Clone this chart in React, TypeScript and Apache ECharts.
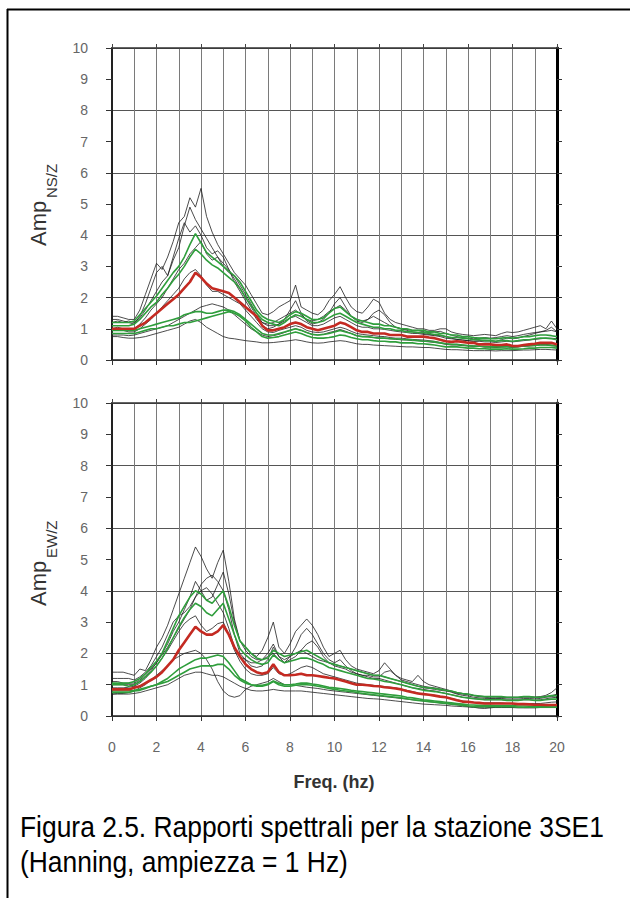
import React, { useEffect, useRef } from "react";
import * as echarts from "echarts";

// Frequency samples (Hz)
const FREQ = [
  0, 0.25, 0.5, 0.75, 1, 1.25, 1.5, 1.75, 2, 2.25, 2.5, 2.75, 3, 3.25, 3.5, 3.75,
  4, 4.25, 4.5, 4.75, 5, 5.25, 5.5, 5.75, 6, 6.25, 6.5, 6.75, 7, 7.25, 7.5, 7.75,
  8, 8.25, 8.5, 8.75, 9, 9.25, 9.5, 9.75, 10, 10.25, 10.5, 10.75, 11, 11.25, 11.5, 11.75,
  12, 12.25, 12.5, 12.75, 13, 13.25, 13.5, 13.75, 14, 14.25, 14.5, 14.75, 15, 15.25, 15.5, 15.75,
  16, 16.25, 16.5, 16.75, 17, 17.25, 17.5, 17.75, 18, 18.25, 18.5, 18.75, 19, 19.25, 19.5, 19.75, 20,
];

const X_TICKS = [0, 2, 4, 6, 8, 10, 12, 14, 16, 18, 20];
const Y_TICKS = [0, 1, 2, 3, 4, 5, 6, 7, 8, 9, 10];

// ---------- NS/Z ----------
const NS_MEAN = [
  1.0, 1.0, 1.0, 1.0, 1.0, 1.1, 1.2, 1.35, 1.5, 1.65, 1.8, 1.95, 2.1, 2.3, 2.5, 2.8,
  2.65, 2.45, 2.3, 2.25, 2.2, 2.15, 2.0, 1.85, 1.7, 1.55, 1.4, 1.1, 0.95, 0.95, 1.0, 1.05,
  1.15, 1.2, 1.15, 1.05, 1.0, 0.95, 1.0, 1.05, 1.1, 1.2, 1.15, 1.05, 0.95, 0.9, 0.9, 0.85,
  0.85, 0.85, 0.8, 0.8, 0.8, 0.75, 0.75, 0.75, 0.75, 0.72, 0.7, 0.65, 0.6, 0.58, 0.6, 0.58,
  0.55, 0.55, 0.5, 0.5, 0.5, 0.48, 0.48, 0.5, 0.45, 0.45, 0.48, 0.5, 0.52, 0.55, 0.55, 0.55, 0.5,
];
const NS_GREEN_1 = [
  1.2, 1.2, 1.2, 1.2, 1.25, 1.45, 1.65, 1.85, 2.05, 2.3, 2.55, 2.8, 3.0, 3.3, 3.7, 4.05,
  3.75, 3.45, 3.3, 3.15, 3.0, 2.85, 2.7, 2.5, 2.2, 1.9, 1.6, 1.4, 1.3, 1.25, 1.2, 1.3,
  1.45, 1.55, 1.5, 1.4, 1.3, 1.3, 1.35, 1.5, 1.65, 1.7, 1.55, 1.4, 1.3, 1.25, 1.2, 1.15,
  1.15, 1.1, 1.1, 1.05, 1.0, 1.0, 0.95, 0.95, 0.95, 0.9, 0.9, 0.85, 0.85, 0.8, 0.8, 0.75,
  0.75, 0.72, 0.7, 0.7, 0.68, 0.68, 0.7, 0.72, 0.7, 0.72, 0.75, 0.75, 0.78, 0.8, 0.8, 0.78, 0.75,
];
const NS_GREEN_2 = [
  1.1, 1.1, 1.1, 1.1, 1.15, 1.3, 1.5, 1.7, 1.85, 2.1, 2.3, 2.55, 2.75, 3.0, 3.3, 3.55,
  3.4, 3.2, 3.05, 2.95, 2.8, 2.65, 2.5, 2.3, 2.0, 1.75, 1.5, 1.3, 1.2, 1.15, 1.1, 1.2,
  1.35, 1.45, 1.4, 1.3, 1.2, 1.2, 1.25, 1.35, 1.45, 1.5, 1.4, 1.3, 1.2, 1.15, 1.1, 1.05,
  1.05, 1.0, 1.0, 0.95, 0.95, 0.9, 0.9, 0.88, 0.88, 0.85, 0.82, 0.8, 0.75, 0.72, 0.72, 0.7,
  0.68, 0.65, 0.65, 0.62, 0.62, 0.6, 0.62, 0.62, 0.6, 0.62, 0.65, 0.65, 0.68, 0.7, 0.7, 0.68, 0.65,
];
const NS_GREEN_3 = [
  0.85, 0.85, 0.85, 0.85, 0.85, 0.9, 0.95, 1.0, 1.0, 1.05, 1.1, 1.1, 1.15, 1.2, 1.2, 1.25,
  1.3, 1.35, 1.4, 1.45, 1.5, 1.55, 1.5, 1.4, 1.25, 1.05, 0.9, 0.75, 0.7, 0.72, 0.75, 0.8,
  0.85, 0.9, 0.85, 0.78, 0.72, 0.7, 0.7, 0.72, 0.75, 0.8, 0.78, 0.72, 0.68, 0.65, 0.65, 0.62,
  0.6, 0.6, 0.58, 0.58, 0.55, 0.55, 0.55, 0.52, 0.52, 0.5, 0.48, 0.45, 0.42, 0.42, 0.42, 0.4,
  0.38, 0.38, 0.36, 0.36, 0.35, 0.35, 0.35, 0.36, 0.35, 0.35, 0.36, 0.38, 0.38, 0.4, 0.4, 0.4, 0.38,
];
const NS_GREEN_4 = [
  0.95, 0.95, 0.95, 0.95, 0.95, 1.0, 1.05, 1.1, 1.15, 1.2, 1.25, 1.3, 1.35, 1.45, 1.5, 1.55,
  1.55, 1.5, 1.5, 1.55, 1.6, 1.6, 1.55, 1.45, 1.3, 1.15, 1.0, 0.85, 0.8, 0.8, 0.85, 0.9,
  0.95, 1.0, 0.95, 0.88, 0.82, 0.8, 0.82, 0.85, 0.9, 0.95, 0.9, 0.85, 0.78, 0.75, 0.75, 0.72,
  0.7, 0.7, 0.68, 0.68, 0.66, 0.65, 0.64, 0.62, 0.6, 0.6, 0.58, 0.55, 0.52, 0.5, 0.5, 0.48,
  0.46, 0.45, 0.44, 0.43, 0.42, 0.42, 0.42, 0.43, 0.42, 0.43, 0.45, 0.46, 0.47, 0.48, 0.48, 0.47, 0.45,
];
const NS_BLACK_1 = [
  1.4, 1.4, 1.35, 1.3, 1.3, 1.6, 2.1, 2.6, 3.1, 2.9, 3.3, 3.8, 4.4, 4.6, 5.2, 4.9,
  5.5, 4.6, 4.1, 3.7, 3.4, 3.1, 2.8, 2.6, 2.4, 2.1, 1.8, 1.5, 1.45, 1.55, 1.7, 1.8,
  1.9, 2.4, 1.7, 1.6, 1.5, 1.45, 1.6, 1.9, 2.1, 2.35, 2.0, 1.7, 1.55, 1.5, 1.7, 1.95,
  1.85, 1.5, 1.3, 1.2, 1.15, 1.1, 1.05, 1.0, 1.0, 0.95, 0.95, 1.0, 1.0, 0.9, 0.85, 0.82,
  0.8, 0.78, 0.8, 0.82, 0.8, 0.78, 0.85, 0.9, 0.88, 0.9, 0.95, 1.0, 1.05, 1.1, 1.0, 1.25, 1.0,
];
const NS_BLACK_2 = [
  1.2, 1.25, 1.2, 1.25, 1.2, 1.35, 1.6, 1.9, 2.2, 2.5, 2.7, 3.2, 3.6, 4.3, 4.9, 4.5,
  4.2, 3.9, 3.6, 3.3, 3.1, 2.9, 2.6, 2.3, 2.0, 1.7, 1.4, 1.2, 1.15, 1.2, 1.3, 1.4,
  1.5, 1.6, 1.45, 1.3, 1.25, 1.3, 1.4, 1.55, 1.65, 1.75, 1.6, 1.4, 1.3, 1.25, 1.3, 1.4,
  1.3, 1.2, 1.1, 1.05, 1.0, 0.98, 0.95, 0.95, 0.9, 0.88, 0.9, 0.92, 0.85, 0.8, 0.75, 0.72,
  0.7, 0.68, 0.7, 0.72, 0.7, 0.72, 0.75, 0.78, 0.75, 0.78, 0.82, 0.85, 0.88, 0.9, 0.92, 0.95, 0.9,
];
const NS_BLACK_3 = [
  1.0, 1.05, 1.0, 1.0, 1.0, 1.15, 1.35, 1.6, 1.8, 2.0, 2.3, 2.6, 2.9, 3.1, 3.4, 3.6,
  3.8, 3.4, 3.2, 3.3, 3.0, 2.8, 2.7, 2.4, 2.1, 1.8, 1.5, 1.2, 1.1, 1.1, 1.15, 1.25,
  1.35, 1.4, 1.3, 1.2, 1.1, 1.1, 1.15, 1.25, 1.35, 1.4, 1.3, 1.2, 1.1, 1.05, 1.05, 1.0,
  1.0, 0.98, 0.95, 0.92, 0.9, 0.88, 0.85, 0.85, 0.82, 0.8, 0.78, 0.75, 0.7, 0.68, 0.66, 0.64,
  0.62, 0.6, 0.6, 0.58, 0.58, 0.56, 0.58, 0.6, 0.58, 0.6, 0.62, 0.64, 0.66, 0.68, 0.7, 0.7, 0.68,
];
const NS_BLACK_4 = [
  0.95, 0.95, 0.95, 0.9, 0.9, 1.0, 1.15, 1.3, 1.5, 1.7, 1.9, 2.1, 2.3, 2.6, 2.8, 2.9,
  2.7, 2.4, 2.2, 2.2, 2.1, 2.0, 1.9, 1.8, 1.6, 1.4, 1.2, 1.0, 0.9, 0.88, 0.95, 1.0,
  1.05, 1.1, 1.05, 0.95, 0.9, 0.88, 0.9, 0.95, 1.0, 1.05, 1.0, 0.92, 0.85, 0.82, 0.8, 0.78,
  0.76, 0.75, 0.72, 0.7, 0.7, 0.68, 0.66, 0.65, 0.64, 0.62, 0.6, 0.56, 0.52, 0.5, 0.5, 0.48,
  0.46, 0.45, 0.44, 0.42, 0.42, 0.4, 0.42, 0.42, 0.4, 0.42, 0.44, 0.45, 0.46, 0.48, 0.48, 0.46, 0.44,
];
const NS_BLACK_5 = [
  0.75, 0.75, 0.72, 0.7, 0.7, 0.72, 0.75, 0.8, 0.85, 0.9, 0.95, 1.0, 1.05, 1.15, 1.25, 1.3,
  1.2, 1.05, 0.95, 0.85, 0.75, 0.7, 0.68, 0.65, 0.62, 0.6, 0.58, 0.55, 0.55, 0.56, 0.58, 0.6,
  0.62, 0.65, 0.62, 0.58, 0.55, 0.54, 0.55, 0.58, 0.6, 0.62, 0.6, 0.56, 0.52, 0.5, 0.5, 0.48,
  0.47, 0.46, 0.45, 0.44, 0.43, 0.42, 0.42, 0.41, 0.4, 0.4, 0.38, 0.36, 0.34, 0.33, 0.33, 0.32,
  0.31, 0.3, 0.3, 0.3, 0.3, 0.29, 0.3, 0.3, 0.3, 0.31, 0.32, 0.32, 0.33, 0.34, 0.34, 0.33, 0.32,
];
const NS_BLACK_6 = [
  0.8, 0.8, 0.8, 0.78, 0.8, 0.85, 0.9, 0.95, 1.0, 1.05, 1.1, 1.2, 1.3, 1.4, 1.5, 1.6,
  1.7, 1.75, 1.8, 1.75, 1.7, 1.6, 1.45, 1.3, 1.15, 1.0, 0.9, 0.8, 0.75, 0.78, 0.82, 0.88,
  0.95, 1.0, 0.95, 0.88, 0.82, 0.8, 0.82, 0.88, 0.92, 0.98, 0.92, 0.85, 0.78, 0.75, 0.74, 0.72,
  0.7, 0.7, 0.68, 0.66, 0.65, 0.64, 0.62, 0.62, 0.6, 0.58, 0.56, 0.54, 0.5, 0.48, 0.48, 0.46,
  0.45, 0.44, 0.44, 0.42, 0.42, 0.41, 0.42, 0.43, 0.42, 0.43, 0.45, 0.46, 0.48, 0.5, 0.5, 0.48, 0.46,
];
const NS_BLACK_7 = [
  1.3, 1.3, 1.25, 1.2, 1.15, 1.4, 1.8, 2.3, 2.8, 3.0, 2.7, 3.3, 3.9, 4.4, 4.1, 4.3,
  4.0, 3.6, 3.4, 3.5, 3.3, 2.9, 2.5, 2.2, 1.9, 1.6, 1.3, 1.1, 1.0, 1.05, 1.15, 1.3,
  1.6, 1.9, 1.5, 1.25, 1.15, 1.2, 1.3, 1.5, 1.8, 2.0, 1.7, 1.4, 1.25, 1.2, 1.3, 1.5,
  1.6, 1.45, 1.2, 1.05, 1.0, 0.95, 0.9, 0.88, 0.85, 0.82, 0.8, 0.78, 0.75, 0.7, 0.66, 0.64,
  0.62, 0.6, 0.62, 0.64, 0.62, 0.6, 0.65, 0.7, 0.68, 0.7, 0.75, 0.8, 0.85, 0.9, 0.95, 1.05, 0.9,
];

// ---------- EW/Z ----------
const EW_MEAN = [
  0.85, 0.85, 0.85, 0.85, 0.9, 0.95, 1.05, 1.15, 1.25, 1.4, 1.6, 1.8, 2.1, 2.35, 2.6, 2.85,
  2.7, 2.6, 2.6, 2.7, 2.9, 2.6, 2.2, 1.9, 1.65, 1.5, 1.4, 1.35, 1.4, 1.65, 1.4, 1.3,
  1.3, 1.32, 1.35, 1.3, 1.3, 1.28, 1.25, 1.22, 1.2, 1.15, 1.1, 1.05, 1.0, 1.0, 0.98, 0.96,
  0.95, 0.92, 0.9, 0.88, 0.85, 0.8, 0.76, 0.72, 0.7, 0.68, 0.65, 0.62, 0.6, 0.55, 0.5, 0.46,
  0.45, 0.43, 0.42, 0.4, 0.4, 0.4, 0.4, 0.4, 0.4, 0.38, 0.38, 0.37, 0.36, 0.36, 0.35, 0.35, 0.35,
];
const EW_GREEN_1 = [
  1.05, 1.05, 1.05, 1.05, 1.1, 1.2, 1.35, 1.55, 1.75, 2.0, 2.4, 2.8, 3.2, 3.5, 3.8, 4.0,
  3.9, 3.7, 3.6, 3.8, 4.0, 3.5, 2.9, 2.4, 2.2, 2.0, 1.85, 1.8, 1.85, 2.1, 2.0, 1.9,
  1.95, 2.0, 2.05, 2.1, 2.0, 1.9, 1.8, 1.7, 1.65, 1.6, 1.55, 1.5, 1.45, 1.4, 1.35, 1.3,
  1.3, 1.25, 1.2, 1.15, 1.1, 1.05, 1.0, 0.95, 0.92, 0.9, 0.88, 0.85, 0.82, 0.8, 0.75, 0.72,
  0.7, 0.66, 0.64, 0.62, 0.62, 0.62, 0.62, 0.6, 0.6, 0.6, 0.62, 0.62, 0.6, 0.6, 0.62, 0.65, 0.65,
];
const EW_GREEN_2 = [
  1.0, 1.0, 1.0, 0.95, 1.0, 1.1, 1.25, 1.4, 1.6, 1.85, 2.15, 2.5, 2.85, 3.15, 3.4, 3.6,
  3.5, 3.3, 3.2, 3.4, 3.6, 3.1, 2.6, 2.15, 1.95, 1.8, 1.7, 1.65, 1.7, 1.95, 1.8, 1.7,
  1.75, 1.8, 1.85, 1.85, 1.8, 1.72, 1.65, 1.55, 1.5, 1.45, 1.4, 1.35, 1.3, 1.25, 1.2, 1.18,
  1.15, 1.1, 1.08, 1.04, 1.0, 0.95, 0.9, 0.86, 0.82, 0.8, 0.78, 0.75, 0.72, 0.68, 0.64, 0.6,
  0.58, 0.55, 0.54, 0.52, 0.52, 0.52, 0.52, 0.5, 0.5, 0.5, 0.52, 0.52, 0.5, 0.5, 0.52, 0.54, 0.54,
];
const EW_GREEN_3 = [
  0.75, 0.75, 0.75, 0.75, 0.8, 0.82, 0.88, 0.95, 1.0, 1.1, 1.2, 1.35, 1.5, 1.6, 1.7, 1.8,
  1.85, 1.85, 1.9, 1.95, 1.9, 1.7, 1.45, 1.2, 1.1, 1.0, 0.95, 0.95, 1.0, 1.1, 1.0, 0.95,
  0.95, 0.98, 1.0, 1.0, 0.98, 0.95, 0.92, 0.88, 0.85, 0.82, 0.8, 0.78, 0.75, 0.72, 0.7, 0.68,
  0.66, 0.64, 0.62, 0.6, 0.58, 0.55, 0.52, 0.5, 0.48, 0.46, 0.44, 0.42, 0.4, 0.38, 0.36, 0.34,
  0.32, 0.3, 0.3, 0.3, 0.3, 0.3, 0.3, 0.3, 0.3, 0.28, 0.28, 0.28, 0.28, 0.28, 0.28, 0.28, 0.28,
];
const EW_GREEN_4 = [
  0.8, 0.8, 0.8, 0.8, 0.82, 0.85, 0.9, 0.95, 1.0, 1.05, 1.1, 1.2, 1.3, 1.4, 1.5, 1.55,
  1.6, 1.6, 1.6, 1.65, 1.65, 1.5, 1.3, 1.15, 1.05, 1.0, 0.98, 0.98, 1.02, 1.12, 1.05, 1.0,
  1.0, 1.02, 1.05, 1.05, 1.02, 1.0, 0.96, 0.92, 0.9, 0.88, 0.85, 0.82, 0.8, 0.78, 0.76, 0.74,
  0.72, 0.7, 0.68, 0.66, 0.64, 0.6, 0.58, 0.55, 0.52, 0.5, 0.48, 0.46, 0.44, 0.42, 0.4, 0.38,
  0.36, 0.35, 0.34, 0.34, 0.34, 0.33, 0.33, 0.33, 0.33, 0.32, 0.32, 0.31, 0.31, 0.31, 0.31, 0.32, 0.32,
];
const EW_BLACK_1 = [
  1.4, 1.4, 1.4, 1.35, 1.3, 1.5, 1.45, 1.8, 2.2, 2.5, 2.9, 3.4, 3.9, 4.4, 4.9, 5.4,
  5.1, 4.7, 4.4, 4.9, 5.3, 4.3, 3.1, 2.4, 2.1, 1.9, 1.8, 1.8, 2.0, 2.3, 1.9, 1.8,
  1.9, 2.0, 2.1, 2.0, 1.9, 1.8, 1.75, 1.7, 1.65, 1.6, 1.55, 1.5, 1.45, 1.4, 1.35, 1.3,
  1.3, 1.25, 1.2, 1.15, 1.1, 1.05, 1.0, 0.95, 0.9, 0.88, 0.85, 0.82, 0.8, 0.78, 0.72, 0.7,
  0.68, 0.66, 0.64, 0.62, 0.62, 0.62, 0.6, 0.6, 0.6, 0.6, 0.62, 0.62, 0.6, 0.62, 0.66, 0.75, 0.9,
];
const EW_BLACK_2 = [
  1.0, 1.0, 1.0, 1.0, 1.0, 1.1, 1.25, 1.45, 1.7, 2.0, 2.3, 2.7, 3.0, 3.4, 3.8, 4.3,
  4.0, 3.7, 3.8, 4.2, 4.6, 3.9, 3.0, 2.4, 2.2, 2.0, 1.9, 2.1, 2.5, 3.0, 2.2, 2.0,
  2.3, 2.7, 2.9, 3.1, 2.9, 2.6, 2.2, 1.9, 2.0, 2.1, 1.8, 1.6, 1.5, 1.45, 1.4, 1.35,
  1.45, 1.7, 1.5, 1.3, 1.2, 1.15, 1.1, 1.3, 1.1, 1.0, 0.95, 0.9, 0.85, 0.8, 0.75, 0.72,
  0.7, 0.65, 0.62, 0.6, 0.58, 0.58, 0.58, 0.58, 0.58, 0.58, 0.6, 0.6, 0.6, 0.6, 0.62, 0.65, 0.7,
];
const EW_BLACK_3 = [
  1.2, 1.2, 1.2, 1.2, 1.15, 1.25, 1.4, 1.6, 1.9, 2.2, 2.6, 3.0, 3.2, 3.3, 3.5, 3.8,
  4.0, 4.1, 3.9, 3.6, 3.3, 2.8, 2.2, 1.9, 1.8, 1.7, 1.7, 1.8, 1.9, 2.0, 1.8, 1.7,
  1.8, 1.9, 2.1, 2.3, 2.4, 2.2, 1.9, 1.7, 1.6, 1.55, 1.5, 1.4, 1.35, 1.3, 1.25, 1.2,
  1.2, 1.15, 1.1, 1.05, 1.0, 0.95, 0.9, 0.88, 0.85, 0.82, 0.8, 0.76, 0.72, 0.68, 0.64, 0.6,
  0.58, 0.56, 0.54, 0.52, 0.52, 0.52, 0.52, 0.5, 0.5, 0.5, 0.52, 0.52, 0.5, 0.52, 0.55, 0.58, 0.6,
];
const EW_BLACK_4 = [
  0.7, 0.72, 0.72, 0.75, 0.8, 0.9, 1.0, 1.15, 1.3, 1.45, 1.6, 1.8, 1.9, 2.0, 2.05, 2.1,
  2.0, 1.8, 1.5, 1.1, 0.8, 0.65, 0.6, 0.65, 0.85, 0.95, 1.0, 1.05, 1.1, 1.2, 1.1, 1.0,
  1.0, 0.98, 0.95, 0.92, 0.9, 0.88, 0.85, 0.82, 0.8, 0.78, 0.76, 0.74, 0.72, 0.7, 0.68, 0.66,
  0.64, 0.62, 0.6, 0.58, 0.56, 0.54, 0.52, 0.5, 0.48, 0.46, 0.44, 0.42, 0.4, 0.38, 0.36, 0.34,
  0.3, 0.28, 0.25, 0.24, 0.26, 0.28, 0.28, 0.28, 0.28, 0.28, 0.27, 0.27, 0.27, 0.28, 0.28, 0.28, 0.28,
];
const EW_BLACK_5 = [
  0.7, 0.7, 0.7, 0.7, 0.72, 0.75, 0.8, 0.85, 0.9, 0.95, 1.0, 1.1, 1.2, 1.3, 1.35, 1.4,
  1.4, 1.35, 1.3, 1.3, 1.25, 1.15, 1.05, 0.95, 0.88, 0.82, 0.8, 0.8, 0.82, 0.85, 0.82, 0.8,
  0.8, 0.8, 0.8, 0.78, 0.76, 0.74, 0.72, 0.7, 0.68, 0.66, 0.64, 0.62, 0.6, 0.58, 0.56, 0.55,
  0.54, 0.52, 0.5, 0.48, 0.46, 0.44, 0.42, 0.4, 0.38, 0.37, 0.36, 0.35, 0.34, 0.32, 0.31, 0.3,
  0.29, 0.28, 0.28, 0.28, 0.27, 0.27, 0.27, 0.27, 0.27, 0.26, 0.26, 0.26, 0.26, 0.27, 0.27, 0.27, 0.27,
];
const EW_BLACK_6 = [
  0.9, 0.9, 0.9, 0.92, 0.95, 1.05, 1.2, 1.4, 1.6, 1.85, 2.1, 2.4, 2.7, 2.95, 3.1, 3.2,
  2.9, 2.7, 2.8, 2.95, 3.0, 2.6, 2.1, 1.75, 1.5, 1.35, 1.3, 1.3, 1.35, 1.55, 1.35, 1.3,
  1.35, 1.45, 1.55, 1.6, 1.55, 1.45, 1.35, 1.3, 1.25, 1.2, 1.15, 1.1, 1.05, 1.02, 1.0, 0.98,
  0.96, 0.94, 0.92, 0.9, 0.86, 0.82, 0.78, 0.74, 0.7, 0.68, 0.66, 0.62, 0.6, 0.56, 0.52, 0.48,
  0.46, 0.44, 0.42, 0.42, 0.42, 0.42, 0.42, 0.4, 0.4, 0.4, 0.4, 0.4, 0.4, 0.4, 0.42, 0.44, 0.45,
];
const EW_BLACK_7 = [
  1.1, 1.1, 1.05, 1.05, 1.05, 1.15, 1.3, 1.5, 1.7, 1.95, 2.2, 2.5, 2.8, 3.1, 3.4, 3.8,
  4.2, 4.4, 4.5, 4.3, 4.0, 3.4, 2.6, 2.0, 1.8, 1.6, 1.55, 1.6, 1.8, 2.2, 1.9, 1.7,
  1.9, 2.2, 2.6, 2.8, 2.6, 2.3, 2.0, 1.8, 1.7, 1.8, 1.6, 1.45, 1.35, 1.3, 1.3, 1.25,
  1.25, 1.4, 1.45, 1.3, 1.15, 1.1, 1.05, 1.0, 0.95, 0.92, 0.9, 0.86, 0.82, 0.76, 0.7, 0.66,
  0.64, 0.6, 0.58, 0.56, 0.56, 0.56, 0.56, 0.54, 0.54, 0.54, 0.56, 0.56, 0.55, 0.56, 0.6, 0.62, 0.65,
];

const NS_BLACK = [NS_BLACK_1, NS_BLACK_2, NS_BLACK_3, NS_BLACK_4, NS_BLACK_5, NS_BLACK_6, NS_BLACK_7];
const NS_GREEN = [NS_GREEN_1, NS_GREEN_2, NS_GREEN_3, NS_GREEN_4];
const EW_BLACK = [EW_BLACK_1, EW_BLACK_2, EW_BLACK_3, EW_BLACK_4, EW_BLACK_5, EW_BLACK_6, EW_BLACK_7];
const EW_GREEN = [EW_GREEN_1, EW_GREEN_2, EW_GREEN_3, EW_GREEN_4];

const FONT = "'Liberation Sans', Arial, sans-serif";

function lineSeries(vals: number[], xi: number, yi: number, color: string, width: number, z: number) {
  return {
    type: "line",
    xAxisIndex: xi,
    yAxisIndex: yi,
    data: FREQ.map((f, i) => [f, vals[i]]),
    showSymbol: false,
    symbol: "none",
    silent: true,
    z,
    lineStyle: { color, width },
  };
}

function xAxes(gridIndex: number, withLabels: boolean) {
  return [
    {
      type: "value",
      gridIndex,
      position: "bottom",
      min: X_TICKS[0],
      max: X_TICKS[X_TICKS.length - 1],
      interval: 2,
      axisLine: { show: true, onZero: false, lineStyle: { color: "#222", width: 1.5 } },
      axisTick: { show: true, length: 5, lineStyle: { color: "#333", width: 1 } },
      axisLabel: {
        show: withLabels,
        margin: 24,
        fontSize: 14,
        color: "#666",
        fontFamily: FONT,
      },
      splitLine: { show: true, lineStyle: { color: "#7a7a7a", width: 1 } },
      minorTick: { show: false, splitNumber: 2 },
      minorSplitLine: { show: true, lineStyle: { color: "#7a7a7a", width: 1 } },
    },
    {
      type: "value",
      gridIndex,
      position: "top",
      min: X_TICKS[0],
      max: X_TICKS[X_TICKS.length - 1],
      interval: 2,
      axisLine: { show: true, onZero: false, lineStyle: { color: "#333", width: 1.5 } },
      axisTick: { show: true, length: 4, lineStyle: { color: "#444", width: 1 } },
      axisLabel: { show: false },
      splitLine: { show: false },
    },
  ];
}

function yAxes(gridIndex: number) {
  return [
    {
      type: "value",
      gridIndex,
      position: "left",
      min: Y_TICKS[0],
      max: Y_TICKS[Y_TICKS.length - 1],
      interval: 1,
      axisLine: { show: true, onZero: false, lineStyle: { color: "#222", width: 2 } },
      axisTick: { show: true, length: 6, lineStyle: { color: "#333", width: 1 } },
      axisLabel: { show: true, margin: 24, fontSize: 14, color: "#666", fontFamily: FONT },
      splitLine: { show: false },
    },
    {
      type: "value",
      gridIndex,
      position: "right",
      min: Y_TICKS[0],
      max: Y_TICKS[Y_TICKS.length - 1],
      interval: 2,
      axisLine: { show: true, onZero: false, lineStyle: { color: "#000", width: 3 } },
      axisTick: { show: true, length: 5, lineStyle: { color: "#333", width: 1 } },
      minorTick: { show: true, splitNumber: 2, length: 5, lineStyle: { color: "#333", width: 1 } },
      axisLabel: { show: false },
      splitLine: { show: true, lineStyle: { color: "#555", width: 1 } },
    },
  ];
}

function rotText(text: string, x: number, y: number, size: number) {
  return {
    type: "text",
    x,
    y,
    rotation: Math.PI / 2,
    silent: true,
    style: {
      text,
      fill: "#333",
      fontSize: size,
      fontFamily: FONT,
      align: "left",
      verticalAlign: "middle",
      textAlign: "left",
      textVerticalAlign: "middle",
    },
  };
}

function captionText(text: string, y: number) {
  return {
    type: "text",
    x: 20,
    y,
    scaleX: 0.88,
    silent: true,
    style: {
      text,
      fill: "#000",
      fontSize: 30,
      fontFamily: FONT,
      align: "left",
      verticalAlign: "middle",
      textAlign: "left",
      textVerticalAlign: "middle",
    },
  };
}

export default function App() {
  const ref = useRef<HTMLDivElement>(null);

  useEffect(() => {
    if (!ref.current) return;
    const chart = echarts.init(ref.current, undefined, { renderer: "svg" });

    const series: any[] = [];
    NS_BLACK.forEach((s) => series.push(lineSeries(s, 0, 0, "#1e1e1e", 0.8, 2)));
    NS_GREEN.forEach((s) => series.push(lineSeries(s, 0, 0, "#2f9e3c", 1.6, 3)));
    series.push(lineSeries(NS_MEAN, 0, 0, "#c42a22", 2.6, 4));
    EW_BLACK.forEach((s) => series.push(lineSeries(s, 2, 2, "#1e1e1e", 0.8, 2)));
    EW_GREEN.forEach((s) => series.push(lineSeries(s, 2, 2, "#2f9e3c", 1.6, 3)));
    series.push(lineSeries(EW_MEAN, 2, 2, "#c42a22", 2.6, 4));

    chart.setOption({
      animation: false,
      backgroundColor: "#ffffff",
      grid: [
        { left: 112, top: 48, width: 445, height: 312 },
        { left: 112, top: 403, width: 445, height: 313 },
      ],
      xAxis: [...xAxes(0, false), ...xAxes(1, true)],
      yAxis: [...yAxes(0), ...yAxes(1)],
      series,
      graphic: [
        { type: "line", silent: true, shape: { x1: 7, y1: 9.5, x2: 630, y2: 9.5 }, style: { stroke: "#000", lineWidth: 2 } },
        { type: "line", silent: true, shape: { x1: 7.5, y1: 9, x2: 7.5, y2: 898 }, style: { stroke: "#000", lineWidth: 2 } },
        rotText("Amp", 38, 246, 22),
        rotText("NS/Z", 51, 198, 15),
        rotText("Amp", 38, 606, 22),
        rotText("EW/Z", 51, 558, 15),
        {
          type: "text",
          x: 334,
          y: 782,
          silent: true,
          style: {
            text: "Freq. (hz)",
            fill: "#333",
            fontSize: 18,
            fontWeight: "bold",
            fontFamily: FONT,
            align: "center",
            verticalAlign: "middle",
            textAlign: "center",
            textVerticalAlign: "middle",
          },
        },
        captionText("Figura 2.5. Rapporti spettrali per la stazione 3SE1", 826),
        captionText("(Hanning, ampiezza = 1 Hz)", 861),
      ],
    });

    return () => {
      chart.dispose();
    };
  }, []);

  return (
    <div
      ref={ref}
      style={{ position: "absolute", left: 0, top: 0, width: 630, height: 898, background: "#fff" }}
    />
  );
}
